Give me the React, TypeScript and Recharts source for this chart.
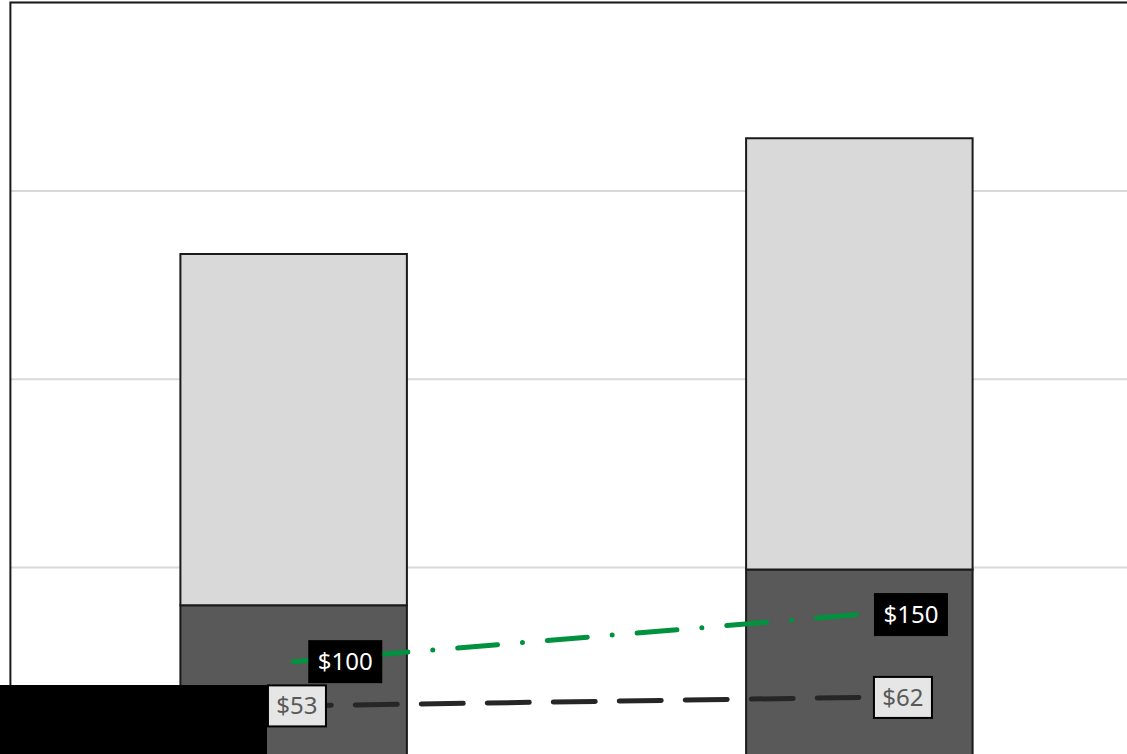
import React from 'react';
import { ComposedChart, Bar, Line, XAxis, YAxis, CartesianGrid, ReferenceArea, LabelList } from 'recharts';

const categories = ['Period 1', 'Period 2'];
const baseValues = [160, 198];
const upperValues = [373, 458];
const greenValues = [100, 150];
const blackValues = [53, 62];
const yTicks = [0, 200, 400, 600, 800];

const data = categories.map((name, i) => ({
  name,
  base: baseValues[i],
  upper: upperValues[i],
  green: greenValues[i],
  black: blackValues[i],
}));

const FONT = '"Noto Sans", sans-serif';
const blackLabelDx = [-26.3, 14];

const boxWidth = (text: string) => 18 + text.length * 14;

const GreenLabel = (props: any) => {
  const { x, y, value } = props;
  if (x == null || y == null) return null;
  const text = `$${value}`;
  const w = boxWidth(text);
  const h = 43;
  const left = x + 15;
  return (
    <g>
      <rect x={left} y={y - h / 2} width={w} height={h} fill="#000000" />
      <text x={left + w / 2} y={y + 8.5} textAnchor="middle" fill="#ffffff" fontSize={24} fontFamily={FONT}>
        {text}
      </text>
    </g>
  );
};

const BlackLabel = (props: any) => {
  const { x, y, value, index } = props;
  if (x == null || y == null) return null;
  const text = `$${value}`;
  const w = boxWidth(text);
  const h = 43;
  const left = x + (blackLabelDx[index] ?? 14);
  return (
    <g>
      <rect x={left + 1} y={y - h / 2 + 1} width={w - 2} height={h - 2} fill="#e6e6e6" stroke="#000000" strokeWidth={2} />
      <text x={left + w / 2} y={y + 8.5} textAnchor="middle" fill="#595959" fontSize={24} fontFamily={FONT}>
        {text}
      </text>
    </g>
  );
};

export default function App() {
  return (
    <div style={{ position: 'absolute', left: 0, top: 0, width: 1127, height: 754, overflow: 'hidden', background: '#ffffff' }}>
      <ComposedChart
        width={1160}
        height={770}
        data={data}
        margin={{ top: 2.6, left: 10.4, right: 18.2, bottom: 14.2 }}
        barCategoryGap={0}
      >
        <CartesianGrid vertical={false} stroke="#d9d9d9" strokeWidth={2} />
        <XAxis dataKey="name" type="category" hide />
        <YAxis type="number" domain={[0, 800]} ticks={yTicks} hide />
        <Bar dataKey="base" stackId="s" barSize={226.5} fill="#595959" stroke="#1a1a1a" strokeWidth={2} isAnimationActive={false} />
        <Bar dataKey="upper" stackId="s" barSize={226.5} fill="#d9d9d9" stroke="#1a1a1a" strokeWidth={2} isAnimationActive={false} />
        <ReferenceArea y1={0} y2={800} fill="none" fillOpacity={0} stroke="#1a1a1a" strokeWidth={2} ifOverflow="visible" />
        <Line
          dataKey="green"
          type="linear"
          stroke="#00923f"
          strokeWidth={5}
          strokeDasharray="40 25 0 25"
          strokeDashoffset={15}
          strokeLinecap="round"
          dot={false}
          activeDot={false}
          isAnimationActive={false}
        >
          <LabelList dataKey="green" content={GreenLabel} />
        </Line>
        <Line
          dataKey="black"
          type="linear"
          stroke="#262626"
          strokeWidth={5}
          strokeDasharray="42 24"
          strokeDashoffset={4}
          strokeLinecap="round"
          dot={false}
          activeDot={false}
          isAnimationActive={false}
        >
          <LabelList dataKey="black" content={BlackLabel} />
        </Line>
      </ComposedChart>
      <div style={{ position: 'absolute', left: 0, top: 685, width: 267, height: 69, background: '#000000' }} />
    </div>
  );
}
